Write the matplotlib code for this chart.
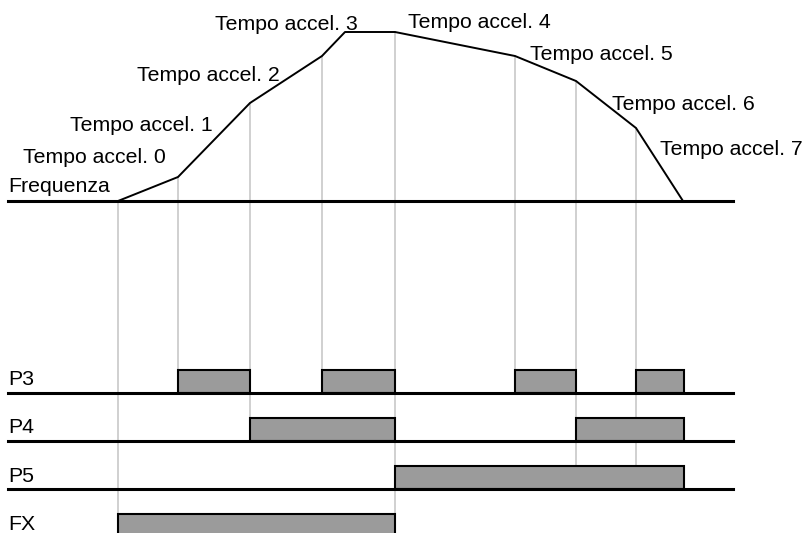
import matplotlib
matplotlib.use("Agg")
from matplotlib import pyplot as plt
from matplotlib.patches import Rectangle

# frequency profile (x = time in px, y = frequency level, screen coords)
curve_x = [118, 178, 250, 322, 345, 395, 515, 576, 636, 683]
curve_y = [201, 177, 103, 56, 32, 32, 56, 81, 128, 201]

# vertical guide lines: x, top, bottom
guide_x = [118, 178, 250, 322, 395, 515, 576, 636]
guide_top = [201, 177, 103, 56, 32, 56, 81, 128]
guide_bottom = [514, 370, 441, 370, 514, 370, 466, 466]

accel_labels = ["Tempo accel. %d" % i for i in range(8)]
label_x = [23, 70, 137, 215, 408, 530, 612, 660]
label_y = [163, 131, 81, 30, 28, 60, 110, 155]

# digital inputs: name, baseline y, label baseline, pulses (start, end)
channels = ["P3", "P4", "P5", "FX"]
base_y = [393, 441, 489, 537]
name_y = [385, 433, 482, 530]
pulses = [
    [(178, 250), (322, 395), (515, 576), (636, 684)],
    [(250, 395), (576, 684)],
    [(395, 684)],
    [(118, 395)],
]
pulse_h = 23

fig = plt.figure(figsize=(8.06, 5.33), dpi=100)
ax = fig.add_axes([0, 0, 1, 1])
ax.set_xlim(0, 806)
ax.set_ylim(533, 0)
ax.axis("off")

font = dict(family=["Liberation Sans", "DejaVu Sans"], fontsize=15.3)

# guides
for x, t, b in zip(guide_x, guide_top, guide_bottom):
    ax.plot([x, x], [t, b], color="#c4c4c4", lw=1.1, zorder=1)

# frequency
ax.plot([8, 733], [201, 201], color="black", lw=2.2, zorder=3)
ax.plot(curve_x, curve_y, color="black", lw=1.4, zorder=3)
ax.text(8, 192, "Frequenza", va="baseline", ha="left", **font)
for s, x, y in zip(accel_labels, label_x, label_y):
    ax.text(x, y, s, va="baseline", ha="left", **font)

# pulses
for name, y0, ny, segs in zip(channels, base_y, name_y, pulses):
    if y0 < 533:
        ax.plot([8, 733], [y0, y0], color="black", lw=2.2, zorder=3)
    for a, b in segs:
        ax.add_patch(Rectangle((a, y0 - pulse_h), b - a, pulse_h,
                               facecolor="#9b9b9b", edgecolor="black",
                               lw=1.5, zorder=2))
    ax.text(8, ny, name, va="baseline", ha="left", **font)

fig.savefig("out.png", dpi=100)
